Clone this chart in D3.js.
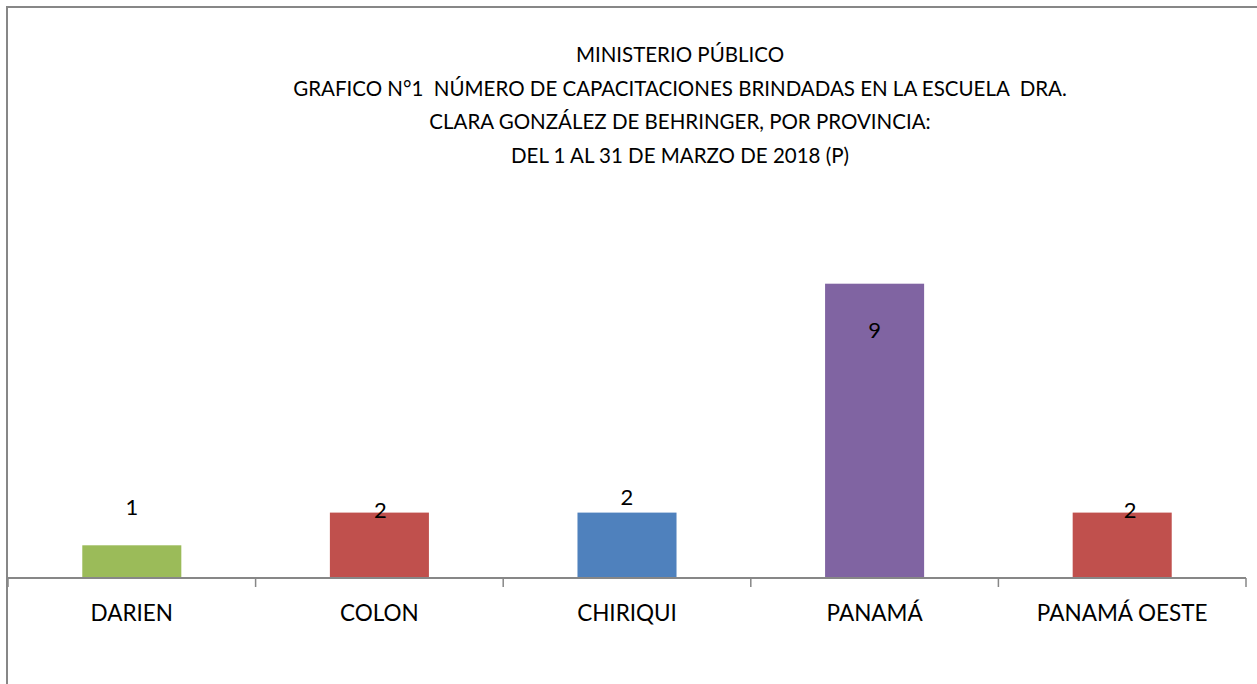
<!DOCTYPE html>
<html>
<head>
<meta charset="utf-8">
<script src="https://cdn.jsdelivr.net/npm/d3@7"></script>
<style>
  body { margin: 0; background: #fff; }
  text { font-family: Lato, "Open Sans", sans-serif; fill: #000; white-space: pre; }
</style>
</head>
<body>
<div id="chart"></div>
<script>

// data
var provinces = ["DARIEN", "COLON", "CHIRIQUI", "PANAMÁ", "PANAMÁ OESTE"];
var trainings = [1, 2, 2, 9, 2];
var titleLines = [
  "MINISTERIO PÚBLICO",
  "GRAFICO N°1  NÚMERO DE CAPACITACIONES BRINDADAS EN LA ESCUELA  DRA.",
  "CLARA GONZÁLEZ DE BEHRINGER, POR PROVINCIA:",
  "DEL 1 AL 31 DE MARZO DE 2018 (P)"
];

// styling
var barColors = ["#9bbb59", "#c0504d", "#4f81bd", "#8064a2", "#c0504d"];
// label nudges relative to bar top (the original labels sit a bit unevenly)
var labelDx = [0, 1, 0, 0, 8];
var labelDy = [-38, -3, -16, 46, -3];

var W = 1257, H = 684;

var svg = d3.select("#chart").append("svg")
  .attr("width", W)
  .attr("height", H);

// chart frame
svg.append("rect")
  .attr("x", 7).attr("y", 7)
  .attr("width", W + 10).attr("height", H + 10)
  .attr("fill", "none")
  .attr("stroke", "#878787")
  .attr("stroke-width", 2);

var x = d3.scaleBand()
  .domain(provinces)
  .range([8, 1246])
  .paddingInner(0.6)
  .paddingOuter(0.3);

var y = d3.scaleLinear()
  .domain([0, 10])
  .range([578, 251]);

// title
svg.append("g").selectAll("text")
  .data(titleLines)
  .enter().append("text")
  .attr("x", 680)
  .attr("y", function(d, i) { return 62 + i * 33.6; })
  .attr("text-anchor", "middle")
  .attr("font-size", "20.5px")
  .attr("xml:space", "preserve")
  .text(function(d) { return d; });

// bars
svg.selectAll("rect.bar")
  .data(trainings)
  .enter().append("rect")
  .attr("class", "bar")
  .attr("x", function(d, i) { return x(provinces[i]); })
  .attr("width", x.bandwidth())
  .attr("y", function(d) { return y(d); })
  .attr("height", function(d) { return y(0) - y(d); })
  .attr("fill", function(d, i) { return barColors[i]; });

// category axis
var axis = d3.axisBottom(x).tickSize(0).tickPadding(27);
var gx = svg.append("g")
  .attr("transform", "translate(0," + y(0) + ")")
  .call(axis);
gx.select(".domain").attr("stroke", "#878787").attr("stroke-width", 2)
  .attr("d", "M8,0H1246");
gx.selectAll("text").attr("font-size", "22.5px").attr("font-family", "Lato, sans-serif");

// tick marks between categories
var tickPos = d3.range(provinces.length + 1).map(function(i) { return 8 + i * (1238 / provinces.length); });
gx.selectAll("line.sep")
  .data(tickPos)
  .enter().append("line")
  .attr("class", "sep")
  .attr("x1", function(d) { return d; })
  .attr("x2", function(d) { return d; })
  .attr("y1", 0).attr("y2", 9)
  .attr("stroke", "#878787")
  .attr("stroke-width", 1.5);

// value labels
svg.selectAll("text.val")
  .data(trainings)
  .enter().append("text")
  .attr("class", "val")
  .attr("x", function(d, i) { return x(provinces[i]) + x.bandwidth() / 2 + labelDx[i]; })
  .attr("y", function(d, i) { return y(d) + labelDy[i] + 8; })
  .attr("text-anchor", "middle")
  .attr("font-size", "22px")
  .text(function(d) { return d; });

</script>
</body>
</html>
